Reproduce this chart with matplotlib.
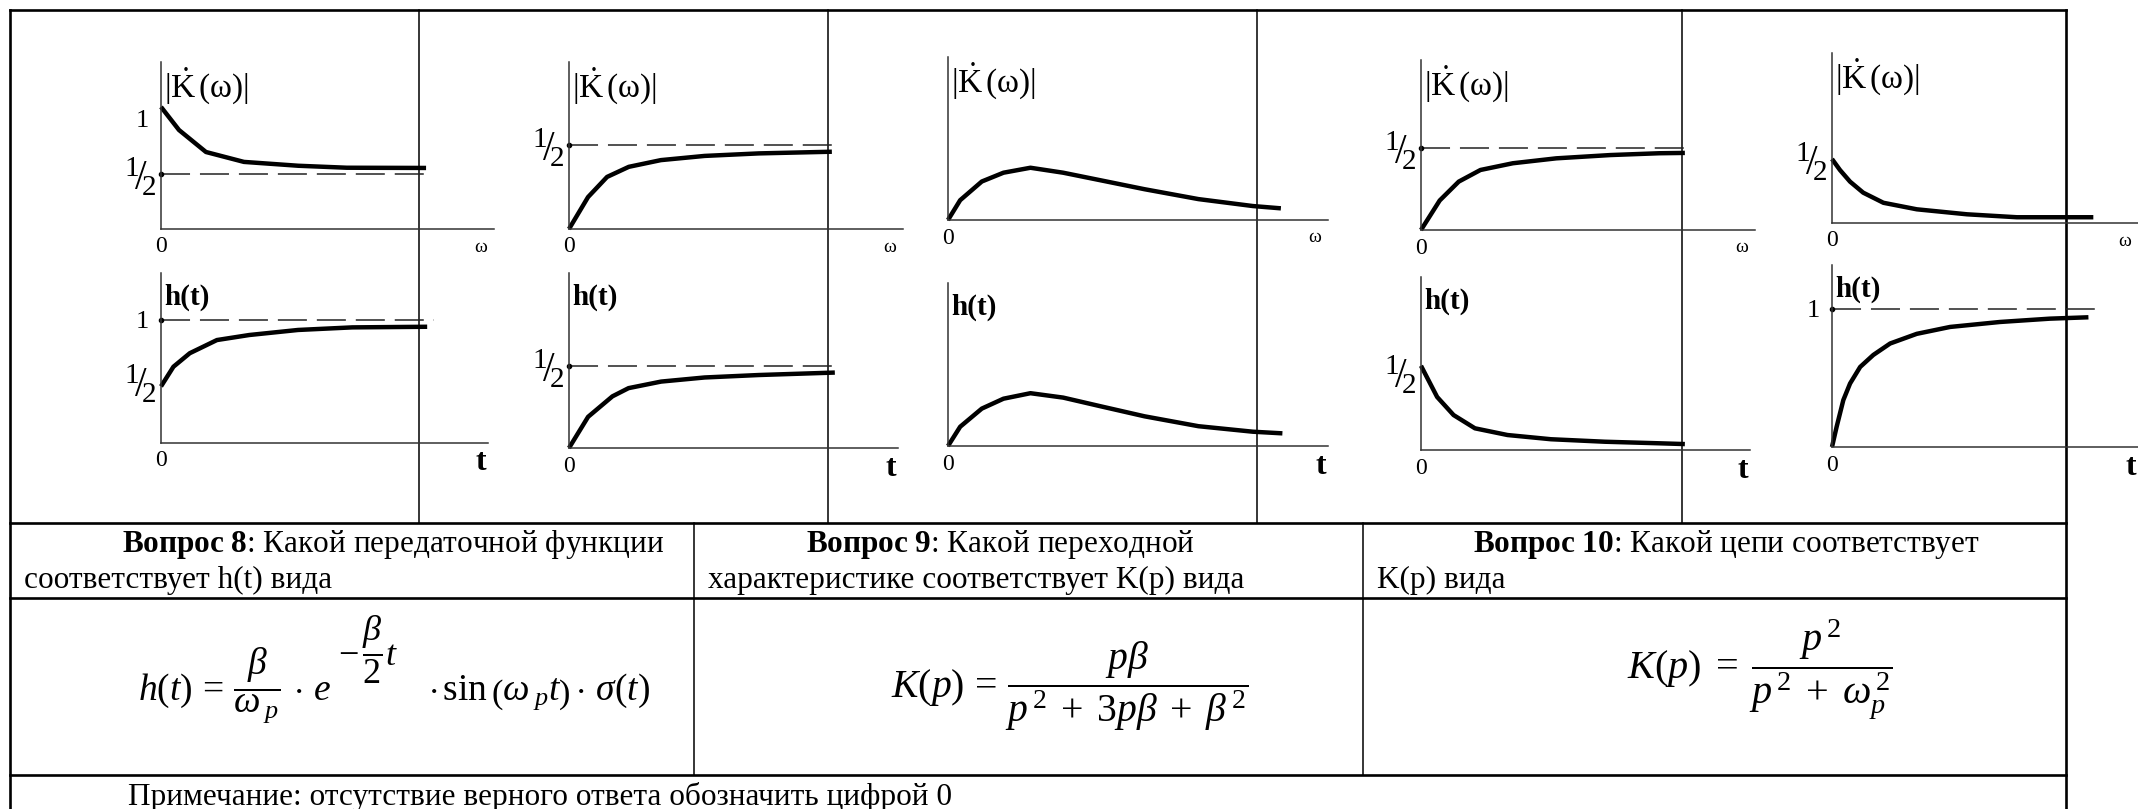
import matplotlib
matplotlib.use('Agg')
import matplotlib.pyplot as plt

plt.rcParams['font.family'] = ['Liberation Serif', 'DejaVu Serif']
plt.rcParams['mathtext.fontset'] = 'custom'
plt.rcParams['mathtext.rm'] = 'Liberation Serif'
plt.rcParams['mathtext.it'] = 'Liberation Serif:italic'
plt.rcParams['mathtext.bf'] = 'Liberation Serif:bold'

# ---- data (x: 0..10 along the axis, y in curve units) ----
k1_x = [0, 0.54, 1.35, 2.49, 4.12, 5.58, 7.96]
k1_y = [1.11, 0.90, 0.70, 0.61, 0.575, 0.557, 0.555]
h1_x = [0, 0.38, 0.88, 1.71, 2.70, 4.19, 5.85, 8.14]
h1_y = [0.46, 0.62, 0.73, 0.837, 0.878, 0.919, 0.94, 0.945]

k2_x = [0, 0.57, 1.14, 1.79, 2.75, 4.06, 5.68, 7.87]
k2_y = [0, 0.19, 0.31, 0.37, 0.41, 0.435, 0.45, 0.46]
h2_x = [0, 0.58, 1.32, 1.81, 2.80, 4.12, 5.77, 8.08]
h2_y = [0, 0.19, 0.315, 0.365, 0.405, 0.43, 0.445, 0.46]

k3_x = [0, 0.32, 0.89, 1.46, 2.17, 3.03, 4.03, 5.17, 6.59, 8.02, 8.76]
k3_y = [0, 0.18, 0.35, 0.43, 0.475, 0.43, 0.36, 0.28, 0.19, 0.127, 0.106]
h3_x = [0, 0.32, 0.89, 1.46, 2.17, 3.03, 4.03, 5.17, 6.59, 8.02, 8.80]
h3_y = [0, 0.175, 0.34, 0.43, 0.48, 0.44, 0.36, 0.27, 0.18, 0.13, 0.115]

k4_x = [0, 0.56, 1.13, 1.78, 2.75, 4.05, 5.67, 7.13, 7.90]
k4_y = [0, 0.18, 0.295, 0.366, 0.407, 0.437, 0.457, 0.468, 0.47]
h4_x = [0, 0.49, 0.99, 1.64, 2.63, 3.95, 5.59, 7.24, 8.02]
h4_y = [0.54, 0.34, 0.224, 0.139, 0.096, 0.069, 0.053, 0.043, 0.038]

k5_x = [0, 0.26, 0.59, 1.02, 1.68, 2.77, 4.41, 6.04, 8.54]
k5_y = [0.5, 0.414, 0.323, 0.237, 0.158, 0.107, 0.068, 0.045, 0.045]
h5_x = [0, 0.15, 0.37, 0.59, 0.92, 1.35, 1.90, 2.77, 3.86, 5.49, 7.12, 8.38]
h5_y = [0, 0.145, 0.34, 0.46, 0.58, 0.667, 0.75, 0.82, 0.87, 0.906, 0.93, 0.94]

k_dash = [0.5, 0.5, None, 0.5, None]
h_dash = [1.0, 0.5, None, None, 1.0]
k_dash_end = [8.05, 7.87, None, 7.90, None]
h_dash_end = [8.35, 8.10, None, None, 8.59]

HALF = r'$\mathrm{{}^{1}\!/\!{}_{2}}$'
k_ticks = [[(1.0, '1'), (0.5, HALF)], [(0.5, HALF)], [], [(0.5, HALF)], [(0.5, HALF)]]
h_ticks = [[(1.0, '1'), (0.5, HALF)], [(0.5, HALF)], [], [(0.5, HALF)], [(1.0, '1')]]

k_label = r'$|\dot{\mathrm{K}}\,(\mathrm{\omega})|$'
h_label = 'h(t)'

questions_l1 = [r'$\mathbf{Вопрос\ 8}$: Какой передаточной функции',
                r'$\mathbf{Вопрос\ 9}$: Какой переходной',
                r'$\mathbf{Вопрос\ 10}$: Какой цепи соответствует']
questions_l2 = ['соответствует h(t) вида',
                'характеристике соответствует K(p) вида',
                'K(p) вида']
# formula 1 is set in three pieces: body, exponent, tail
f1_body = r'$h(t)\,=\,\dfrac{\beta}{\omega_{\;p}}\,\cdot\,e$'
f1_exp = r'$-\,\dfrac{\beta}{2}t$'
f1_tail = r'$\cdot\,\sin\left(\omega_{\;p}t\right)\cdot\,\sigma(t)$'
f2 = r'$K(p)\,=\,\dfrac{p\beta}{p^{\,2}\;+\;3p\beta\;+\;\beta^{\,2}}$'
f3 = r'$K(p)\;=\;\dfrac{p^{\,2}}{p^{\,2}\;+\;\omega_{p}^{\,2}}$'
note = 'Примечание: отсутствие верного ответа обозначить цифрой 0'

# ---- layout (pixels) ----
W, H = 2138, 809
# per panel: origin x, origin y, axis length, axis height, px per unit
k_geom = [(161, 229, 333, 167, 110), (569, 229, 334, 167, 168), (948, 220, 380, 163, 110),
          (1421, 230, 334, 170, 164), (1832, 223, 306, 170, 128)]
h_geom = [(161, 443, 327, 170, 123), (569, 448, 329, 175, 164), (948, 446, 380, 163, 110),
          (1421, 450, 329, 173, 156), (1832, 447, 306, 182, 138)]

fig = plt.figure(figsize=(W / 100, H / 100), dpi=100)
bg = fig.add_axes([0, 0, 1, 1])
bg.set_xlim(0, W)
bg.set_ylim(H, 0)
bg.axis('off')

# table grid
thick, thin = 1.9, 1.1
bg.plot([10, 2066], [10, 10], color='black', lw=thick)
bg.plot([10, 10], [10, H + 5], color='black', lw=thick)
bg.plot([2066, 2066], [10, H + 5], color='black', lw=thick)
for yy in (523, 598, 775):
    bg.plot([10, 2066], [yy, yy], color='black', lw=thick)
for xx in (419, 828, 1257, 1682):
    bg.plot([xx, xx], [10, 523], color='black', lw=thin)
for xx in (694, 1363):
    bg.plot([xx, xx], [523, 775], color='black', lw=thin)

# question / formula / note text
q_centers = [393, 1000, 1726]
q_lefts = [24, 708, 1377]
for i in range(3):
    bg.text(q_centers[i], 552, questions_l1[i], ha='center', va='baseline', fontsize=22.5)
    bg.text(q_lefts[i], 588, questions_l2[i], ha='left', va='baseline', fontsize=22.5)

bg.text(138, 700, f1_body, ha='left', va='baseline', fontsize=27)
bg.text(338, 650, f1_exp, ha='left', va='center', fontsize=26)
bg.text(428, 700, f1_tail, ha='left', va='baseline', fontsize=27)
bg.text(891, 697, f2, ha='left', va='baseline', fontsize=28.5)
bg.text(1627, 679, f3, ha='left', va='baseline', fontsize=29)
bg.text(128, 805, note, ha='left', va='baseline', fontsize=22.5)


def panel(geom, xs, ys, dash, dash_end, ticks, label, end_label, is_h):
    ox, oy, L, Hp, k = geom
    ax = fig.add_axes([ox / W, 1 - oy / H, L / W, Hp / H])
    ax.patch.set_visible(False)
    ax.set_xlim(0, 10)
    ax.set_ylim(0, Hp / k)
    for s in ('top', 'right'):
        ax.spines[s].set_visible(False)
    for s in ('left', 'bottom'):
        ax.spines[s].set_color('#333333')
        ax.spines[s].set_linewidth(1.1)
    ax.set_xticks([])
    ax.set_yticks([])
    ax.plot(xs, ys, color='black', lw=3.2, clip_on=False, solid_capstyle='butt')
    if dash is not None:
        ax.plot([0, dash_end], [dash, dash], color='#222222', lw=1.1,
                linestyle=(0, (19, 6.5)), clip_on=False)
        ax.plot([0], [dash], 'o', color='black', ms=3, clip_on=False)
    for val, txt in ticks:
        if txt == '1':
            ax.annotate(txt, (0, val), xytext=(-12, -2), textcoords='offset pixels',
                        ha='right', va='center', fontsize=19)
        else:
            ax.annotate(txt, (0, val), xytext=(-4, -4), textcoords='offset pixels',
                        ha='right', va='center', fontsize=30)
    ymax = Hp / k
    ax.annotate(label, (0, ymax), xytext=(3, -24), textcoords='offset pixels',
                ha='left', va='center', fontsize=21 if is_h else 24,
                fontweight='bold' if is_h else 'normal')
    ax.annotate('0', (0, 0), xytext=(0, -18), textcoords='offset pixels',
                ha='center', va='center', fontsize=17)
    if is_h:
        ax.annotate(end_label, (10, 0), xytext=(-7, -20), textcoords='offset pixels',
                    ha='center', va='center', fontsize=23, fontweight='bold')
    else:
        ax.annotate(end_label, (10, 0), xytext=(-13, -18), textcoords='offset pixels',
                    ha='center', va='center', fontsize=14)
    return ax


k_x = [k1_x, k2_x, k3_x, k4_x, k5_x]
k_y = [k1_y, k2_y, k3_y, k4_y, k5_y]
h_x = [h1_x, h2_x, h3_x, h4_x, h5_x]
h_y = [h1_y, h2_y, h3_y, h4_y, h5_y]
for i in range(5):
    panel(k_geom[i], k_x[i], k_y[i], k_dash[i], k_dash_end[i], k_ticks[i], k_label, 'ω', False)
    panel(h_geom[i], h_x[i], h_y[i], h_dash[i], h_dash_end[i], h_ticks[i], h_label, 't', True)

fig.savefig('out.png', dpi=100)
